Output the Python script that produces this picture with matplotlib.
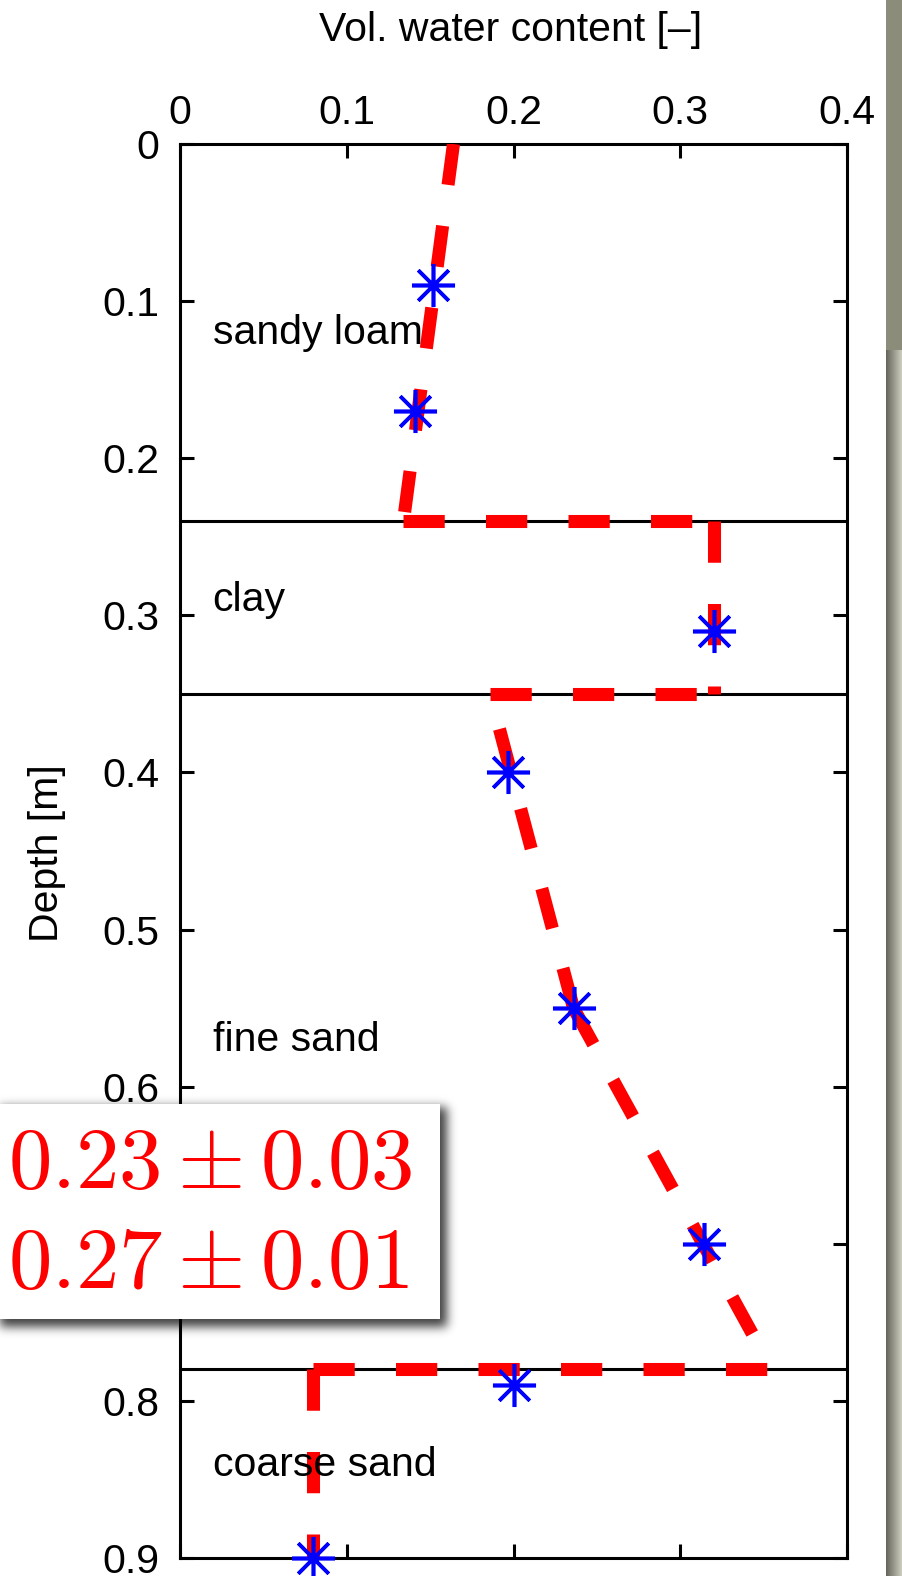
import numpy as np
import matplotlib
matplotlib.use("Agg")
import matplotlib.pyplot as plt
from matplotlib.patches import Rectangle

plt.rcParams['font.family'] = ['Liberation Sans', 'DejaVu Sans']
plt.rcParams['mathtext.fontset'] = 'cm'
plt.rcParams['lines.scale_dashes'] = False

# measured water content (stars)
obs_depth = [0.09, 0.17, 0.31, 0.40, 0.55, 0.70, 0.79, 0.90]
obs_theta = [0.152, 0.141, 0.320, 0.197, 0.236, 0.314, 0.200, 0.080]

# modelled profile, one piece per drawn line (dashed)
model_theta = [
    [0.164, 0.134],
    [0.134, 0.320],
    [0.320, 0.320],
    [0.186, 0.320],
    [0.236, 0.186],
    [0.236, 0.355],
    [0.080, 0.355],
    [0.080, 0.080],
]
model_depth = [
    [0.00, 0.24],
    [0.24, 0.24],
    [0.24, 0.35],
    [0.35, 0.35],
    [0.55, 0.35],
    [0.55, 0.78],
    [0.78, 0.78],
    [0.78, 0.90],
]

# soil layer boundaries and names
layer_bounds = [0.24, 0.35, 0.78]
layer_names = ['sandy loam', 'clay', 'fine sand', 'coarse sand']
layer_label_depth = [0.12, 0.29, 0.57, 0.841]

x_ticks = [0, 0.1, 0.2, 0.3, 0.4]
y_ticks = [0, 0.1, 0.2, 0.3, 0.4, 0.5, 0.6, 0.7, 0.8, 0.9]

box_lines = [r'$0.23 \pm 0.03$', r'$0.27 \pm 0.01$']

W, H = 902, 1576
FS = 29.5

fig = plt.figure(figsize=(W / 100, H / 100), dpi=100)
ax = fig.add_axes([180 / W, 1 - 1558 / H, 667 / W, 1414 / H])

for d in layer_bounds:
    ax.axhline(d, color='black', lw=2.2, zorder=2)

for th, dp in zip(model_theta, model_depth):
    ax.plot(th, dp, color='red', lw=9.4, dashes=(29.7, 29.7),
            dash_joinstyle='miter', dash_capstyle='butt', zorder=3)
ax.plot(obs_theta, obs_depth, linestyle='none', marker=(8, 2, 0),
        markersize=31, markeredgewidth=2.6, color='blue', clip_on=False, zorder=4)

for name, d in zip(layer_names, layer_label_depth):
    ax.text(0.0195, d, name, fontsize=FS, va='center', ha='left', zorder=5)

ax.set_xlim(0, 0.4)
ax.set_ylim(0.9, 0)
ax.set_xticks(x_ticks)
ax.set_yticks(y_ticks)
ax.set_xticklabels(['%g' % v for v in x_ticks])
# 0.7 sits under the result box
ax.set_yticklabels(['' if v == 0.7 else '%g' % v for v in y_ticks])
ax.xaxis.tick_top()
ax.tick_params(which='both', direction='in', top=True, bottom=True, left=True, right=True,
               labeltop=True, labelbottom=False, length=10, width=2.2, labelsize=FS)
ax.tick_params(axis='x', pad=9)
ax.tick_params(axis='y', pad=15)
for sp in ax.spines.values():
    sp.set_linewidth(2.2)

fig.text(511 / W, 1 - 30 / H, 'Vol. water content [\u2013]', fontsize=FS,
         ha='center', va='center')
fig.text(47 / W, 1 - 853 / H, 'Depth [m]', fontsize=FS, rotation=90,
         ha='center', va='center')

# result box: soft drop shadow made from a blurred rectangle
bx0, bx1, by0, by1 = 0, 440, 1104, 1319
rx0, rx1, ry0, ry1 = 0, 480, 1070, 1360
yy, xx = np.mgrid[ry0:ry1, rx0:rx1]
mask = ((xx >= bx0 - 40) & (xx < bx1 + 7) & (yy >= by0 + 4) & (yy < by1 + 8)).astype(float)
k = np.exp(-0.5 * (np.arange(-15, 16) / 5.0) ** 2)
k /= k.sum()
mask = np.apply_along_axis(lambda r: np.convolve(r, k, mode='same'), 1, mask)
mask = np.apply_along_axis(lambda c: np.convolve(c, k, mode='same'), 0, mask)
shadow = np.zeros(mask.shape + (4,))
shadow[..., 3] = 0.75 * mask
sh_ax = fig.add_axes([rx0 / W, 1 - ry1 / H, (rx1 - rx0) / W, (ry1 - ry0) / H], zorder=5)
sh_ax.imshow(shadow, aspect='auto', interpolation='bilinear')
sh_ax.axis('off')

fig.add_artist(Rectangle((bx0 / W, 1 - by1 / H), (bx1 - bx0) / W, (by1 - by0) / H,
                         transform=fig.transFigure, facecolor='white',
                         edgecolor='none', zorder=11))
for txt, yc in zip(box_lines, [1166, 1265]):
    fig.text(8 / W, 1 - yc / H, txt, fontsize=62.5, color='red',
             ha='left', va='center', zorder=12)

# strip at the right edge
sax = fig.add_axes([886 / W, 0, 16 / W, 1])
grad = np.linspace(0, 1, 16)
col0 = np.array([0.40, 0.40, 0.36])
col1 = np.array([0.80, 0.80, 0.74])
strip = col0[None, None, :] + (col1 - col0)[None, None, :] * grad[None, :, None]
strip = np.repeat(strip, H, axis=0)
strip[:350] = np.array([0.55, 0.55, 0.48])
sax.imshow(strip, aspect='auto', extent=(0, 1, 0, 1))
sax.axis('off')

fig.savefig('out.png', dpi=100)
